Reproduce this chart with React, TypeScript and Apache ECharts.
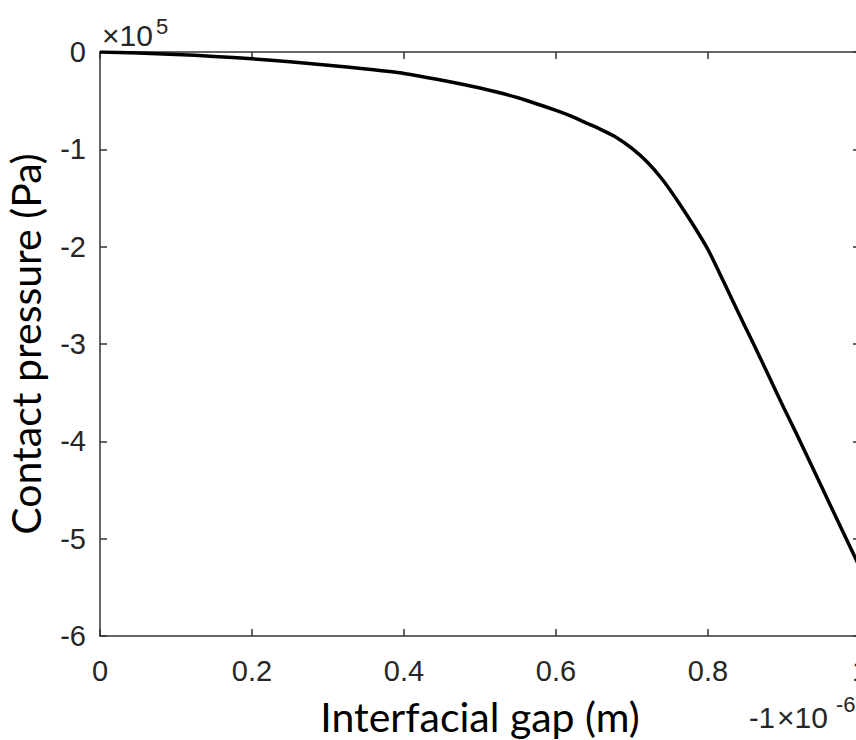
import React, { useEffect, useRef } from "react";
import * as echarts from "echarts";

// Interfacial gap (×1e-6 m) and contact pressure (×1e5 Pa)
const gapX: number[] = [
  0, 0.05, 0.1, 0.15, 0.2, 0.25, 0.3, 0.35, 0.4, 0.45, 0.5, 0.55, 0.6, 0.62, 0.64,
  0.66, 0.68, 0.7, 0.72, 0.74, 0.76, 0.78, 0.8, 0.82, 0.84, 0.86, 0.88, 0.9, 0.92,
  0.94, 0.96, 0.98, 1.0,
];
const pressure: number[] = [
  0, -0.01, -0.025, -0.045, -0.07, -0.1, -0.135, -0.175, -0.22, -0.29, -0.37, -0.47,
  -0.6, -0.66, -0.73, -0.8, -0.88, -0.99, -1.13, -1.31, -1.53, -1.77, -2.03, -2.35,
  -2.68, -3.0, -3.33, -3.66, -3.98, -4.31, -4.64, -4.97, -5.3,
];
const xTicks: string[] = ["0", "0.2", "0.4", "0.6", "0.8", "1"];
const yTicks: string[] = ["-6", "-5", "-4", "-3", "-2", "-1", "0"];

const xTitle = "Interfacial gap (m)";
const yTitle = "Contact pressure (Pa)";

export default function App() {
  const ref = useRef<HTMLDivElement>(null);
  useEffect(() => {
    if (!ref.current) return;
    const chart = echarts.init(ref.current, null, { renderer: "svg" });
    const axisColor = "#333333";
    const tickFont = "'Liberation Sans', Arial, sans-serif";
    const titleFont = "Lato, 'Open Sans', sans-serif";
    const baseX = {
      type: "value" as const,
      min: 0,
      max: 1,
      interval: 0.2,
      splitLine: { show: false },
      axisLine: { show: true, onZero: false, lineStyle: { color: axisColor, width: 1.5 } },
      axisTick: { show: true, inside: true, length: 7, lineStyle: { color: axisColor, width: 1.5 } },
    };
    const baseY = {
      type: "value" as const,
      min: -6,
      max: 0,
      interval: 1,
      splitLine: { show: false },
      axisLine: { show: true, onZero: false, lineStyle: { color: axisColor, width: 1.5 } },
      axisTick: { show: true, inside: true, length: 7, lineStyle: { color: axisColor, width: 1.5 } },
    };
    chart.setOption({
      animation: false,
      backgroundColor: "#ffffff",
      grid: {
        left: 100,
        top: 52,
        width: 760,
        height: 584,
        containLabel: false,
        outerBoundsMode: "none",
      },
      xAxis: [
        {
          ...baseX,
          position: "bottom",
          name: xTitle,
          nameLocation: "middle",
          nameGap: 60,
          nameTextStyle: { fontFamily: titleFont, fontSize: 41, color: "#000000" },
          axisLabel: {
            show: true,
            margin: 20,
            fontFamily: tickFont,
            fontSize: 29,
            color: "#262626",
            formatter: (v: number) => xTicks[Math.round(v / 0.2)] ?? String(v),
          },
        },
        { ...baseX, position: "top", axisLabel: { show: false } },
      ],
      yAxis: [
        {
          ...baseY,
          position: "left",
          name: yTitle,
          nameLocation: "middle",
          nameGap: 54,
          nameRotate: 90,
          nameTextStyle: { fontFamily: titleFont, fontSize: 41, color: "#000000" },
          axisLabel: {
            show: true,
            margin: 14,
            fontFamily: tickFont,
            fontSize: 29,
            color: "#262626",
            formatter: (v: number) => yTicks[Math.round(v + 6)] ?? String(v),
          },
        },
        { ...baseY, position: "right", axisLabel: { show: false } },
      ],
      series: [
        {
          type: "line",
          xAxisIndex: 0,
          yAxisIndex: 0,
          data: gapX.map((x, i) => [x, pressure[i]]),
          showSymbol: false,
          smooth: 0.2,
          lineStyle: { color: "#000000", width: 3.5 },
        },
      ],
      graphic: [
        {
          type: "text",
          left: 102,
          top: 20,
          style: { text: "×10", fontFamily: tickFont, fontSize: 30, fill: "#262626" },
        },
        {
          type: "text",
          left: 156,
          top: 15,
          style: { text: "5", fontFamily: tickFont, fontSize: 22, fill: "#262626" },
        },
        {
          type: "text",
          left: 749,
          top: 703,
          style: { text: "-1", fontFamily: tickFont, fontSize: 29, fill: "#262626" },
        },
        {
          type: "text",
          left: 777,
          top: 702,
          style: { text: "×10", fontFamily: tickFont, fontSize: 30, fill: "#262626" },
        },
        {
          type: "text",
          left: 836,
          top: 693,
          style: { text: "-6", fontFamily: tickFont, fontSize: 22, fill: "#262626" },
        },
      ],
    });
    return () => chart.dispose();
  }, []);
  return (
    <div
      ref={ref}
      style={{ position: "fixed", left: 0, top: 0, width: 856, height: 740, background: "#fff" }}
    />
  );
}
